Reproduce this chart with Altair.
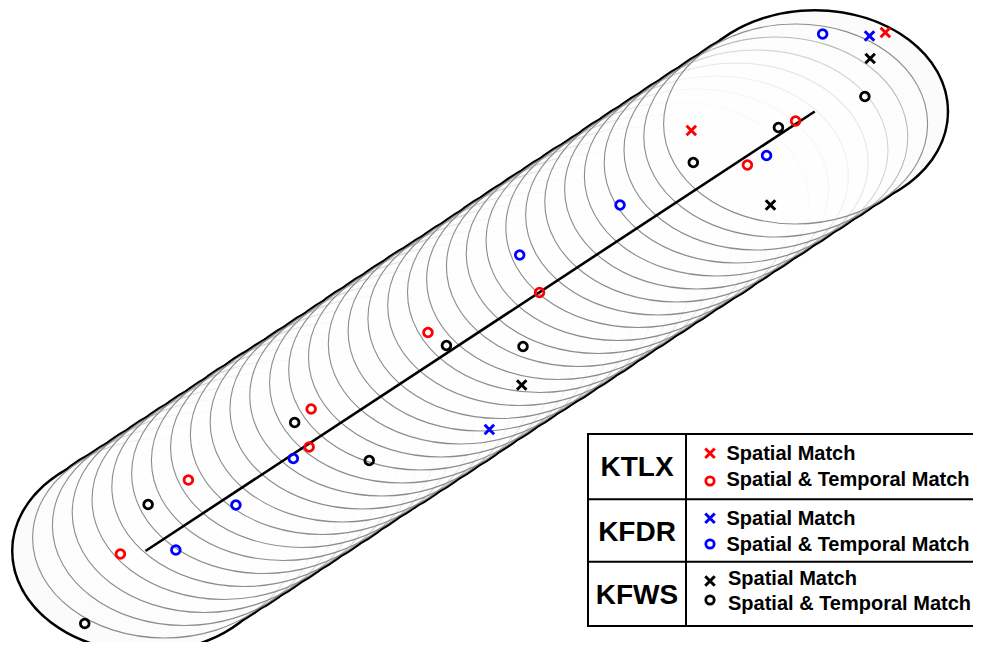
import altair as alt
import pandas as pd

# ---------------- data (units: km-like plane, x east, y north) ----------------
# storm track (start, end)
track_x = [0.0, 101.4]
track_y = [0.0, 87.9]

# centres of the range rings along the track
ring_x = [2.9, 5.9, 8.9, 11.9, 14.9, 17.9, 20.9, 23.8, 26.8, 29.8, 32.8, 35.8,
          38.8, 41.7, 44.7, 47.7, 50.7, 53.7, 56.7, 59.7, 62.6, 65.6, 68.6,
          71.6, 74.6, 77.6, 80.5, 83.5, 86.5, 89.5, 92.5, 95.5, 98.5]
ring_y = [2.6, 5.1, 7.7, 10.3, 12.9, 15.5, 18.1, 20.7, 23.3, 25.8, 28.4, 31.0,
          33.6, 36.2, 38.8, 41.4, 44.0, 46.5, 49.1, 51.7, 54.3, 56.9, 59.5,
          62.1, 64.7, 67.2, 69.8, 72.4, 75.0, 77.6, 80.2, 82.8, 85.4]
ring_radius = 20.0

# KTLX
ktlx_s_x = [82.7, 112.1]
ktlx_s_y = [84.1, 103.7]
ktlx_st_x = [-3.8, 6.5, 25.1, 24.8, 42.8, 59.7, 91.2, 98.5]
ktlx_st_y = [-0.6, 14.2, 28.4, 20.8, 43.7, 51.7, 77.2, 86.0]
# KFDR
kfdr_s_x = [109.7, 52.1]
kfdr_s_y = [103.0, 24.3]
kfdr_st_x = [4.6, 13.7, 22.4, 56.7, 71.9, 94.1, 102.6]
kfdr_st_y = [0.2, 9.2, 18.5, 59.2, 69.2, 79.1, 103.4]
# KFWS
kfws_s_x = [109.8, 94.7, 57.0]
kfws_s_y = [98.5, 69.2, 33.2]
kfws_st_x = [-9.2, 0.4, 22.6, 33.9, 45.6, 57.2, 83.0, 95.9, 109.0]
kfws_st_y = [-14.5, 9.3, 25.7, 18.1, 41.1, 40.9, 77.7, 84.7, 90.9]

radars = ["KTLX", "KFDR", "KFWS"]
radar_colors = ["#ff0000", "#0000ff", "#000000"]
label_s = "Spatial Match"
label_st = "Spatial & Temporal Match"

# ---------------- layout ----------------
W, H = 965, 634
XDOM = [-20.83, 125.38]
YDOM = [-18.2, 108.6]
sx = W / (XDOM[1] - XDOM[0])
sy = H / (YDOM[1] - YDOM[0])
k = (ring_radius * sy) / (ring_radius * sx)
ELL = f"M-1,0A1,{k:.4f},0,0,1,1,0A1,{k:.4f},0,0,1,-1,0Z"
ELL_SIZE = (2 * ring_radius * sx) ** 2
XPATH = "M-1,-1L1,1M-1,1L1,-1"
FONT = "Liberation Sans"

xs = alt.Scale(domain=XDOM, nice=False, zero=False)
ys = alt.Scale(domain=YDOM, nice=False, zero=False)


def enc():
    return dict(x=alt.X("x:Q", scale=xs, axis=None),
                y=alt.Y("y:Q", scale=ys, axis=None))


outline_df = pd.DataFrame({"x": track_x[:1] + ring_x + track_x[1:],
                           "y": track_y[:1] + ring_y + track_y[1:]})
ring_df = pd.DataFrame({"x": ring_x, "y": ring_y})
track_df = pd.DataFrame({"x": track_x, "y": track_y})

rows = []
for r, sxv, syv, stx, sty in [
    ("KTLX", ktlx_s_x, ktlx_s_y, ktlx_st_x, ktlx_st_y),
    ("KFDR", kfdr_s_x, kfdr_s_y, kfdr_st_x, kfdr_st_y),
    ("KFWS", kfws_s_x, kfws_s_y, kfws_st_x, kfws_st_y),
]:
    for a, b in zip(sxv, syv):
        rows.append({"x": a, "y": b, "radar": r, "match": "S"})
    for a, b in zip(stx, sty):
        rows.append({"x": a, "y": b, "radar": r, "match": "ST"})
pts = pd.DataFrame(rows)

color = alt.Color("radar:N", scale=alt.Scale(domain=radars, range=radar_colors), legend=None)

outline = alt.Chart(outline_df).mark_point(
    shape=ELL, size=ELL_SIZE, filled=True, fill="white", fillOpacity=1,
    stroke="black", strokeWidth=5, opacity=1).encode(**enc())
cover = alt.Chart(outline_df).mark_point(
    shape=ELL, size=ELL_SIZE, filled=True, fill="#fbfbfb", fillOpacity=1,
    strokeWidth=0, strokeOpacity=0, opacity=1).encode(**enc())
rings = alt.Chart(ring_df).mark_point(
    shape=ELL, size=ELL_SIZE, filled=True, fill="white", fillOpacity=0.4,
    stroke="#8c8c8c", strokeWidth=1.1, strokeOpacity=1, opacity=1).encode(**enc())
line = alt.Chart(track_df).mark_line(color="black", strokeWidth=2.6).encode(**enc())

circ = alt.Chart(pts).transform_filter(alt.datum.match == "ST").mark_point(
    shape="circle", filled=False, size=76, strokeWidth=2.8, opacity=1
).encode(color=color, **enc())
crosses = alt.Chart(pts).transform_filter(alt.datum.match == "S").mark_point(
    shape=XPATH, filled=False, size=90, strokeWidth=3, opacity=1
).encode(color=color, **enc())

# ---------------- legend table ----------------
one = pd.DataFrame({"a": [0]})
L, R, T, B = 580, 1000, 426, 618
legend = [
    alt.Chart(one).mark_rect(fill="white", stroke="black", strokeWidth=2).encode(
        x=alt.value(L), x2=alt.value(R), y=alt.value(T), y2=alt.value(B)),
    alt.Chart(one).mark_rule(color="black", strokeWidth=2).encode(
        x=alt.value(678), y=alt.value(T), y2=alt.value(B)),
]
for yy in [491.3, 553.7]:
    legend.append(alt.Chart(one).mark_rule(color="black", strokeWidth=2).encode(
        x=alt.value(L), x2=alt.value(R), y=alt.value(yy)))

station_y = [468, 532.7, 596.3]
mark_y = [(445.3, 473), (510.3, 536), (573, 592)]
text_y = [(452, 477.7), (517, 542.7), (577, 602)]
text_x = [718.5, 718.5, 720.0]
for i, r in enumerate(radars):
    c = radar_colors[i]
    legend.append(alt.Chart(one).mark_text(
        text=r, font=FONT, fontSize=28, fontWeight="bold", align="center",
        baseline="alphabetic", color="black").encode(
        x=alt.value(629), y=alt.value(station_y[i])))
    legend.append(alt.Chart(one).mark_point(
        shape=XPATH, filled=False, size=90, strokeWidth=3, opacity=1, color=c).encode(
        x=alt.value(702), y=alt.value(mark_y[i][0])))
    legend.append(alt.Chart(one).mark_point(
        shape="circle", filled=False, size=70, strokeWidth=2.8, opacity=1, color=c).encode(
        x=alt.value(702), y=alt.value(mark_y[i][1])))
    legend.append(alt.Chart(one).mark_text(
        text=label_s, font=FONT, fontSize=20, fontWeight="bold", align="left",
        baseline="alphabetic", color="black").encode(
        x=alt.value(text_x[i]), y=alt.value(text_y[i][0])))
    legend.append(alt.Chart(one).mark_text(
        text=label_st, font=FONT, fontSize=20, fontWeight="bold", align="left",
        baseline="alphabetic", color="black").encode(
        x=alt.value(text_x[i]), y=alt.value(text_y[i][1])))

chart = alt.layer(outline, cover, rings, line, circ, crosses, *legend).properties(
    width=W, height=H, padding=0, autosize="none"
).configure_view(strokeWidth=0)

chart.save("out.html", embed_options={"renderer": "svg", "actions": False})
